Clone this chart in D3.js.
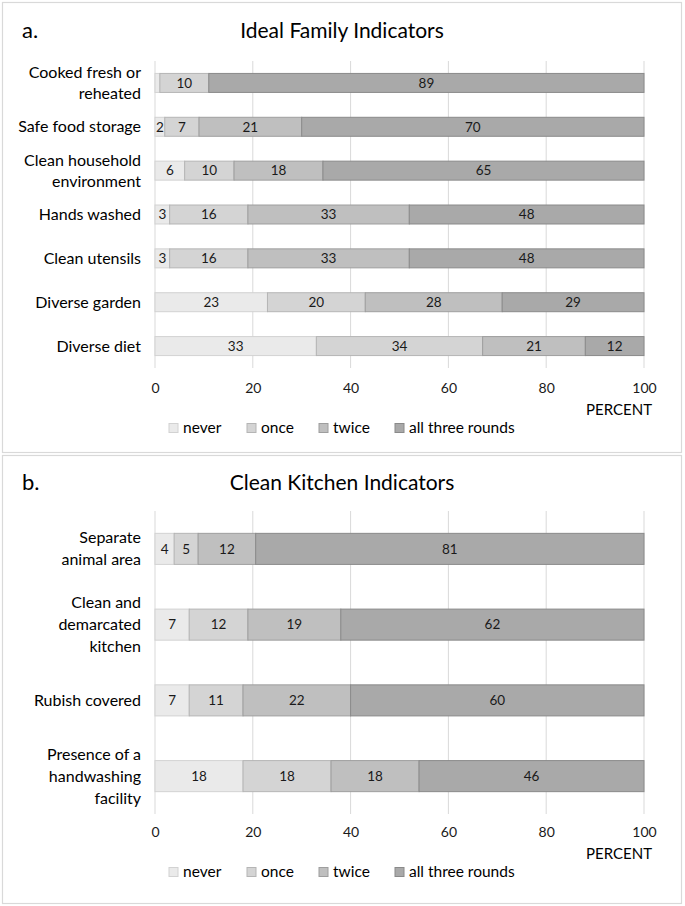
<!DOCTYPE html>
<html><head><meta charset="utf-8">
<script src="https://cdn.jsdelivr.net/npm/d3@7"></script>
<style>
body{margin:0;background:#fff}
text{font-family:Lato,"Open Sans",sans-serif}
</style>
</head><body>
<svg id="chart" width="685" height="906"></svg>
<script>
const seriesNames = ["never", "once", "twice", "all three rounds"];
const seriesFill = ["#eaeaea", "#d4d4d4", "#bfbfbf", "#a9a9a9"];
const seriesStroke = ["#d2d2d2", "#b5b5b5", "#9e9e9e", "#8a8a8a"];
const tickValues = [0, 20, 40, 60, 80, 100];

const familyCategories = ["Cooked fresh or\nreheated", "Safe food storage", "Clean household\nenvironment", "Hands washed", "Clean utensils", "Diverse garden", "Diverse diet"];
const familyNever = [1, 2, 6, 3, 3, 23, 33];
const familyOnce  = [10, 7, 10, 16, 16, 20, 34];
const familyTwice = [0, 21, 18, 33, 33, 28, 21];
const familyAll   = [89, 70, 65, 48, 48, 29, 12];

const kitchenCategories = ["Separate\nanimal area", "Clean and\ndemarcated\nkitchen", "Rubish covered", "Presence of a\nhandwashing\nfacility"];
const kitchenNever = [4, 7, 7, 18];
const kitchenOnce  = [5, 12, 11, 18];
const kitchenTwice = [12, 19, 22, 18];
const kitchenAll   = [81, 62, 60, 46];

const svg = d3.select("#chart");
const keys = ["s0", "s1", "s2", "s3"];

function panel(cfg) {
  const g = svg.append("g");
  g.append("rect").attr("x", 2.5).attr("y", cfg.boxTop).attr("width", 679).attr("height", cfg.boxH)
    .attr("fill", "#fff").attr("stroke", "#d9d9d9").attr("stroke-width", 1.2);
  g.append("text").attr("x", 22).attr("y", cfg.titleY).attr("font-size", 22).attr("fill", "#000").text(cfg.letter);
  g.append("text").attr("x", 342).attr("y", cfg.titleY).attr("text-anchor", "middle").attr("font-size", 21).attr("fill", "#000").text(cfg.title);

  const rows = cfg.cats.map((c, i) => ({cat: c, s0: cfg.vals[0][i], s1: cfg.vals[1][i], s2: cfg.vals[2][i], s3: cfg.vals[3][i]}));
  const stacked = d3.stack().keys(keys).offset(d3.stackOffsetExpand)(rows);
  const x = d3.scaleLinear().domain([0, 100]).range([155, 644]);
  const y = d3.scaleBand().domain(cfg.cats).range([cfg.top, cfg.bottom]).paddingInner(cfg.pad).paddingOuter(cfg.pad / 2);

  g.selectAll(".grid").data(tickValues).join("line")
    .attr("x1", d => x(d)).attr("x2", d => x(d)).attr("y1", cfg.top).attr("y2", cfg.bottom)
    .attr("stroke", "#d9d9d9").attr("stroke-width", 1);

  stacked.forEach((s, k) => {
    const sg = g.append("g");
    sg.selectAll("rect").data(s).join("rect")
      .attr("x", d => x(d[0] * 100)).attr("width", d => Math.max(0, x(d[1] * 100) - x(d[0] * 100)))
      .attr("y", d => y(d.data.cat)).attr("height", y.bandwidth())
      .attr("fill", seriesFill[k]).attr("stroke", seriesStroke[k]).attr("stroke-width", 1);
    sg.selectAll("text").data(s.filter(d => d.data[keys[k]] > 1)).join("text")
      .attr("x", d => (x(d[0] * 100) + x(d[1] * 100)) / 2)
      .attr("y", d => y(d.data.cat) + y.bandwidth() / 2)
      .attr("dy", "0.35em").attr("text-anchor", "middle").attr("font-size", 13.5).attr("fill", "#1a1a1a")
      .text(d => d.data[keys[k]]);
  });

  cfg.cats.forEach(c => {
    const lines = c.split("\n");
    const cy = y(c) + y.bandwidth() / 2;
    const t = g.append("text").attr("text-anchor", "end").attr("font-size", 16).attr("fill", "#000");
    lines.forEach((ln, i) => {
      t.append("tspan").attr("x", 141).attr("y", cy + (i - (lines.length - 1) / 2) * cfg.lh).attr("dy", "0.35em").text(ln);
    });
  });

  const ax = g.append("g").attr("transform", `translate(0,${cfg.tickY})`)
    .call(d3.axisBottom(x).tickValues(tickValues).tickSize(0).tickPadding(0));
  ax.select(".domain").remove();
  ax.selectAll("text").attr("font-size", 14).attr("fill", "#1a1a1a").attr("font-family", "Lato,sans-serif");

  g.append("text").attr("x", 652).attr("y", cfg.tickY + 32).attr("text-anchor", "end").attr("font-size", 15).attr("fill", "#000").text("PERCENT");

  const legX = [169, 247, 319, 395];
  seriesNames.forEach((n, k) => {
    g.append("rect").attr("x", legX[k]).attr("y", cfg.legY - 4.5).attr("width", 9).attr("height", 9)
      .attr("fill", seriesFill[k]).attr("stroke", seriesStroke[k]);
    g.append("text").attr("x", legX[k] + 14).attr("y", cfg.legY).attr("dy", "0.35em").attr("font-size", 15.5).attr("fill", "#000").text(n);
  });
}

panel({boxTop: 2.5, boxH: 450, letter: "a.", title: "Ideal Family Indicators", titleY: 38,
  cats: familyCategories, vals: [familyNever, familyOnce, familyTwice, familyAll],
  top: 61, bottom: 368, pad: 0.567, lh: 21, tickY: 383, legY: 428});

panel({boxTop: 455.5, boxH: 448, letter: "b.", title: "Clean Kitchen Indicators", titleY: 490,
  cats: kitchenCategories, vals: [kitchenNever, kitchenOnce, kitchenTwice, kitchenAll],
  top: 511, bottom: 814, pad: 0.59, lh: 22, tickY: 827, legY: 872});
</script>
</body></html>
